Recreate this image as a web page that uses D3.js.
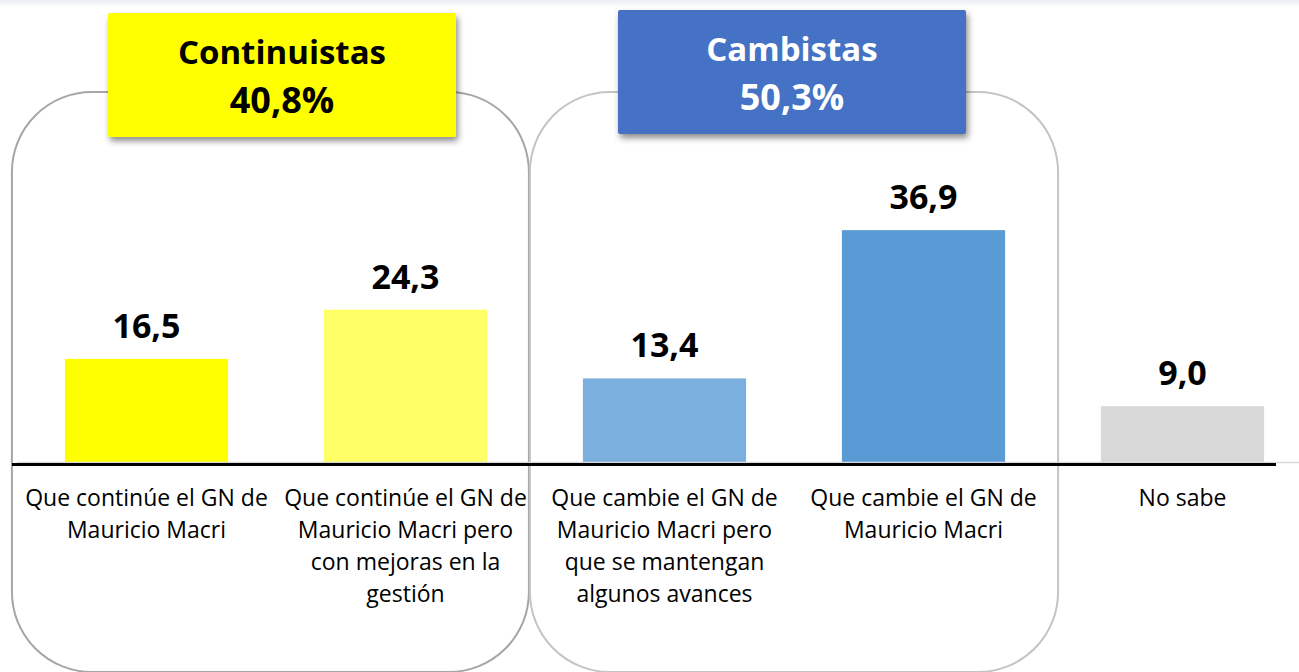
<!DOCTYPE html>
<html lang="es">
<head>
<meta charset="UTF-8">
<title>Continuistas vs Cambistas</title>
<script src="https://cdn.jsdelivr.net/npm/d3@7"></script>
<style>
  body, html {margin: 0; padding: 0; background: #fff;}
  svg {display: block;}
  .valor {font-family: "Open Sans", sans-serif; font-weight: 700; font-size: 34px; fill: #000;}
  .cat {font-family: "Open Sans", sans-serif; font-size: 23px; fill: #000;}
  .titulo {font-family: "Open Sans", sans-serif; font-weight: 700; font-size: 33px;}
  .titulo.pct {font-size: 36px;}
</style>
</head>
<body>
<div class="marco"></div>
<script>
// datos
const categorias = [
  ["Que continúe el GN de", "Mauricio Macri"],
  ["Que continúe el GN de", "Mauricio Macri pero", "con mejoras en la", "gestión"],
  ["Que cambie el GN de", "Mauricio Macri pero", "que se mantengan", "algunos avances"],
  ["Que cambie el GN de", "Mauricio Macri"],
  ["No sabe"]
];
const valores = [16.5, 24.3, 13.4, 36.9, 9.0];
const grupos = ["Continuistas", "Cambistas"];
const totalesGrupo = ["40,8%", "50,3%"];
const indicesGrupo = [[0, 1], [2, 3]];

const colores = ["#FFFF00", "#FFFF66", "#7BAFDE", "#5B9BD5", "#D9D9D9"];
const coloresCaja = ["#FFFF00", "#4472C4"];
const coloresTexto = ["#000", "#fff"];

const width = 1299, height = 672;
const base = 463;

const svg = d3.select(".marco").append("svg")
  .attr("width", width)
  .attr("height", height);

const defs = svg.append("defs");
const sombra = defs.append("filter").attr("id", "sombra")
  .attr("x", "-10%").attr("y", "-10%").attr("width", "130%").attr("height", "140%");
sombra.append("feDropShadow")
  .attr("dx", 2).attr("dy", 4).attr("stdDeviation", 3)
  .attr("flood-color", "#000").attr("flood-opacity", 0.45);

// franja tenue arriba
const grad = defs.append("linearGradient").attr("id", "franja").attr("x1", 0).attr("y1", 0).attr("x2", 0).attr("y2", 1);
grad.append("stop").attr("offset", 0).attr("stop-color", "#eaeef2");
grad.append("stop").attr("offset", 1).attr("stop-color", "#ffffff");
svg.append("rect").attr("x", 0).attr("y", 0).attr("width", width).attr("height", 8)
  .attr("fill", "url(#franja)");

const idx = d3.range(valores.length);
const x = d3.scaleBand().domain(idx).range([17, 1312]).paddingInner(0.37).paddingOuter(0.185);
const y = d3.scaleLinear().domain([0, 40]).range([base, 210.6]);
const bw = x.bandwidth();

// marcos redondeados de cada grupo
const marcos = indicesGrupo.map(g => ({
  x0: x(g[0]) - 53,
  x1: x(g[g.length - 1]) + bw + 53
}));
marcos.forEach((m, i) => {
  if (i < marcos.length - 1) m.x1 = Math.min(m.x1, marcos[i + 1].x0 - 1);
});
svg.append("g").selectAll("rect")
  .data(marcos)
  .enter().append("rect")
  .attr("x", d => d.x0)
  .attr("y", 92)
  .attr("width", d => d.x1 - d.x0)
  .attr("height", 580)
  .attr("rx", 80).attr("ry", 80)
  .attr("fill", "none")
  .attr("stroke", (d, i) => i === 0 ? "#a6a6a6" : "#c4c4c4")
  .attr("stroke-width", 2);

// barras
svg.append("g").selectAll("rect")
  .data(valores)
  .enter().append("rect")
  .attr("x", (d, i) => x(i))
  .attr("y", d => y(d))
  .attr("width", bw)
  .attr("height", d => base - y(d))
  .attr("fill", (d, i) => colores[i]);

// valores
svg.append("g").selectAll("text")
  .data(valores)
  .enter().append("text")
  .attr("class", "valor")
  .attr("x", (d, i) => x(i) + bw / 2)
  .attr("y", d => y(d) - 21)
  .attr("text-anchor", "middle")
  .text(d => d.toFixed(1).replace(".", ","));

// eje
const eje = svg.append("g")
  .attr("transform", `translate(0, ${base - 1})`)
  .call(d3.axisBottom(x).tickSize(0).tickFormat(""));
eje.select(".domain").attr("stroke", "#d9d9d9").attr("stroke-width", 1.5);
svg.append("line")
  .attr("x1", 12).attr("x2", 1276)
  .attr("y1", base + 1.5).attr("y2", base + 1.5)
  .attr("stroke", "#000").attr("stroke-width", 3);

// etiquetas de categoria
const cats = svg.append("g").selectAll("text")
  .data(categorias)
  .enter().append("text")
  .attr("class", "cat")
  .attr("text-anchor", "middle")
  .attr("x", (d, i) => x(i) + bw / 2)
  .attr("y", 506);
cats.selectAll("tspan")
  .data(d => d)
  .enter().append("tspan")
  .attr("x", function () { return this.parentNode.getAttribute("x"); })
  .attr("dy", (d, j) => j === 0 ? 0 : 32)
  .text(d => d);

// cajas de titulo
const cajas = [
  {x0: 108, x1: 456, y0: 13, y1: 137},
  {x0: 618, x1: 966, y0: 10, y1: 134}
];
const tit = svg.append("g").selectAll("g")
  .data(grupos)
  .enter().append("g");
tit.append("rect")
  .attr("x", (d, i) => cajas[i].x0)
  .attr("y", (d, i) => cajas[i].y0)
  .attr("width", (d, i) => cajas[i].x1 - cajas[i].x0)
  .attr("height", (d, i) => cajas[i].y1 - cajas[i].y0)
  .attr("rx", 2)
  .attr("fill", (d, i) => coloresCaja[i])
  .attr("filter", "url(#sombra)");
tit.append("text")
  .attr("class", "titulo")
  .attr("text-anchor", "middle")
  .attr("x", (d, i) => (cajas[i].x0 + cajas[i].x1) / 2)
  .attr("y", (d, i) => cajas[i].y0 + 51)
  .attr("fill", (d, i) => coloresTexto[i])
  .text(d => d);
tit.append("text")
  .attr("class", "titulo pct")
  .attr("text-anchor", "middle")
  .attr("x", (d, i) => (cajas[i].x0 + cajas[i].x1) / 2)
  .attr("y", (d, i) => cajas[i].y0 + 100)
  .attr("fill", (d, i) => coloresTexto[i])
  .text((d, i) => totalesGrupo[i]);
</script>
</body>
</html>
